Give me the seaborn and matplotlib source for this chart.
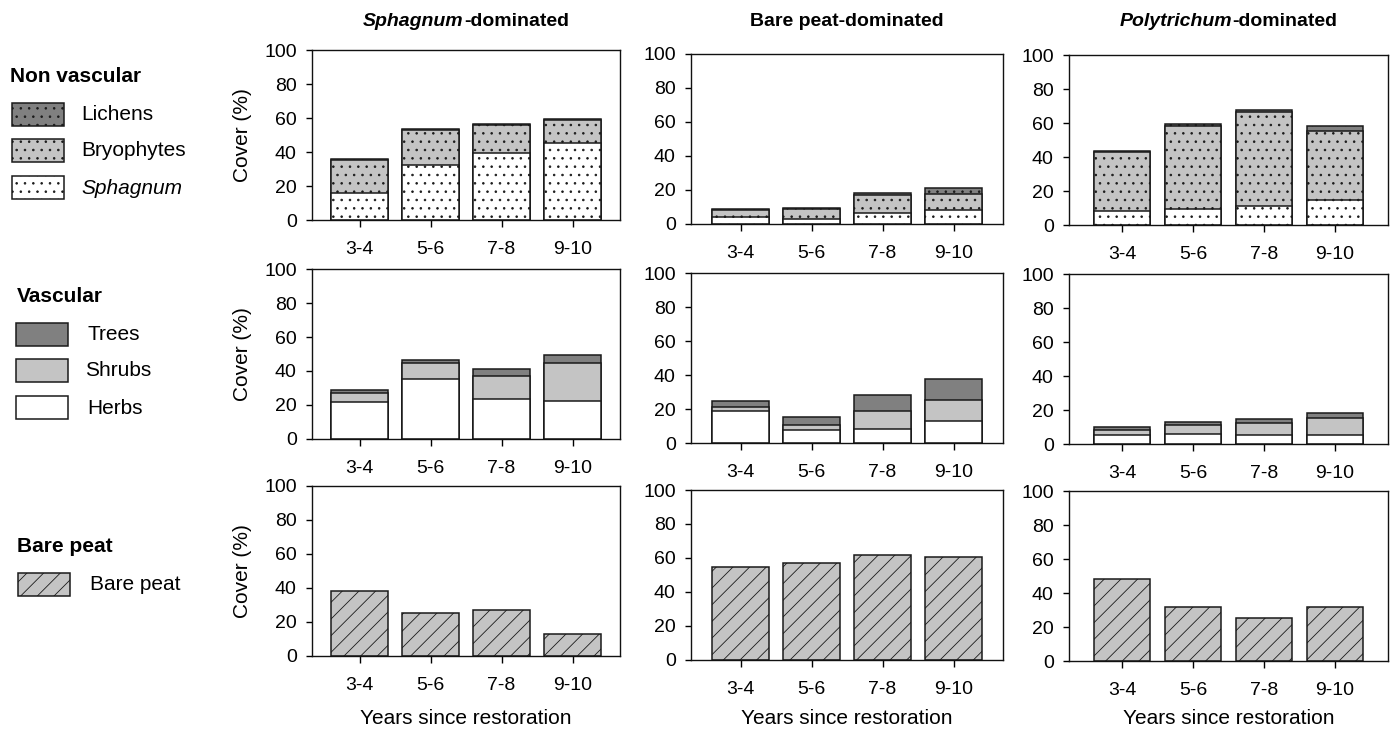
import matplotlib
matplotlib.use('Agg')
import matplotlib.pyplot as plt
from matplotlib.patches import Rectangle
import numpy as np
import pandas as pd
import seaborn as sns

anos = ['3-4', '5-6', '7-8', '9-10']

# nao vasculares, uma lista por tipo de sitio (Sphagnum, turfa nua, Polytrichum)
sphagnum = [[16, 32.5, 39.5, 45.5], [4, 3, 6.5, 8.5], [8.5, 9.5, 11, 14.5]]
briofitas = [[19.5, 20.5, 16.5, 13.3], [4.5, 6, 10.5, 9], [34.5, 49, 55.5, 41]]
liquens = [[0.3, 0.3, 0.3, 0.4], [0.5, 0.5, 1, 3.5], [0.5, 0.8, 1, 2.7]]

# vasculares
ervas = [[22, 35, 23.5, 22.5], [19, 7.5, 8.5, 13], [5.5, 6, 5.5, 5.5]]
arbustos = [[5, 9.5, 13.5, 22], [2, 3, 10.5, 12.5], [3, 5, 7, 10]]
arvores = [[2, 2, 4, 5], [3.5, 5, 9.5, 12], [1.5, 2, 2.5, 2.5]]

# turfa nua
turfa = [[38, 25.5, 27, 13], [55, 57, 61.5, 60.5], [48.5, 32, 25.5, 31.5]]

titulos = [[('Sphagnum', 'italic'), ('-dominated', 'normal')],
           [('Bare peat-dominated', 'normal')],
           [('Polytrichum', 'italic'), ('-dominated', 'normal')]]

CINZA_ESCURO = '#808080'
CINZA_CLARO = '#c4c4c4'
BORDA = '#1a1a1a'
W, H = 1395, 731

sns.set_theme(style='ticks')
plt.rcParams['font.family'] = ['Liberation Sans', 'DejaVu Sans']
plt.rcParams['hatch.linewidth'] = 0.6
plt.rcParams['hatch.color'] = BORDA
plt.rcParams['text.color'] = 'black'
plt.rcParams['axes.labelcolor'] = 'black'
plt.rcParams['xtick.color'] = 'black'
plt.rcParams['ytick.color'] = 'black'

fig = plt.figure(figsize=(W / 100, H / 100), dpi=100)

# layout em pixels: esquerda e direita de cada coluna, topo de cada linha
col_esq = [312, 691, 1069]
col_dir = [620, 1003, 1388]
col_dy = [0, 4, 5]
linha_topo = [50, 269, 486]
altura = 170
passo = 71.0


def barras_empilhadas(ax, camadas, cores, hachura):
    # desenha do total para baixo: cada barra menor cobre a anterior
    acumulado = np.cumsum(np.array(camadas), axis=0)
    for i in range(len(camadas) - 1, -1, -1):
        df = pd.DataFrame({'ano': anos, 'cobertura': acumulado[i]})
        sns.barplot(data=df, x='ano', y='cobertura', color=cores[i], saturation=1,
                    errorbar=None, edgecolor=BORDA, linewidth=1.1, hatch=hachura,
                    width=0.8, ax=ax)


for c in range(3):
    for r in range(3):
        topo = linha_topo[r] + col_dy[c]
        ax = fig.add_axes([col_esq[c] / W, 1 - (topo + altura) / H,
                           (col_dir[c] - col_esq[c]) / W, altura / H])
        if r == 0:
            barras_empilhadas(ax, [sphagnum[c], briofitas[c], liquens[c]],
                              ['white', CINZA_CLARO, CINZA_ESCURO], '..')
        elif r == 1:
            barras_empilhadas(ax, [ervas[c], arbustos[c], arvores[c]],
                              ['white', CINZA_CLARO, CINZA_ESCURO], None)
        else:
            barras_empilhadas(ax, [turfa[c]], [CINZA_CLARO], '//')
        esq = -(((col_esq[c] + col_dir[c]) / 2 - col_esq[c]) / passo) + 1.5
        ax.set_xlim(esq, esq + (col_dir[c] - col_esq[c]) / passo)
        ax.set_ylim(0, 100)
        ax.set_yticks(range(0, 101, 20))
        ax.set_xlabel('')
        ax.set_ylabel('')
        ax.tick_params(axis='x', direction='out', length=5, width=1, pad=10, labelsize=14)
        ax.tick_params(axis='y', direction='out', length=4, width=1, pad=7, labelsize=14)
        for s in ax.spines.values():
            s.set_visible(True)
            s.set_linewidth(1)
            s.set_color('#111111')
        if c == 0:
            fig.text(243 / W, 1 - (topo + altura / 2) / H, 'Cover (%)', rotation=90,
                     ha='center', va='center', fontsize=15)
    fig.text((col_esq[c] + col_dir[c]) / 2 / W, 1 - 719 / H, 'Years since restoration',
             ha='center', va='center', fontsize=15)

# titulos com partes em italico
fig.canvas.draw()
renderer = fig.canvas.get_renderer()
for c in range(3):
    textos = [fig.text(0, 1 - 22 / H, t, fontsize=14, fontweight='bold', fontstyle=e, va='center')
              for t, e in titulos[c]]
    larguras = [t.get_window_extent(renderer).width for t in textos]
    x = (col_esq[c] + col_dir[c]) / 2 - sum(larguras) / 2
    for t, w in zip(textos, larguras):
        t.set_x(x / W)
        x += w

# legenda desenhada a mao no lado esquerdo
grupos = [
    ('Non vascular', 10, 77, [
        ('Lichens', CINZA_ESCURO, '..', 'normal', 12, 103, 81),
        ('Bryophytes', CINZA_CLARO, '..', 'normal', 12, 139, 81),
        ('Sphagnum', 'white', '..', 'italic', 12, 176, 81),
    ]),
    ('Vascular', 17, 297, [
        ('Trees', CINZA_ESCURO, None, 'normal', 16, 323, 87),
        ('Shrubs', CINZA_CLARO, None, 'normal', 16, 359, 85),
        ('Herbs', 'white', None, 'normal', 16, 396, 87),
    ]),
    ('Bare peat', 17, 547, [
        ('Bare peat', CINZA_CLARO, '//', 'normal', 18, 573, 90),
    ]),
]
for nome, tx, ty, itens in grupos:
    fig.text(tx / W, 1 - ty / H, nome, fontsize=15, fontweight='bold', va='center')
    for rotulo, cor, hach, estilo, px, py, lx in itens:
        fig.patches.append(Rectangle((px / W, 1 - (py + 23) / H), 52 / W, 23 / H,
                                     transform=fig.transFigure, facecolor=cor,
                                     edgecolor=BORDA, linewidth=1.1, hatch=hach))
        fig.text(lx / W, 1 - (py + 12) / H, rotulo, fontsize=15, fontstyle=estilo, va='center')

fig.savefig('out.png', dpi=100)
